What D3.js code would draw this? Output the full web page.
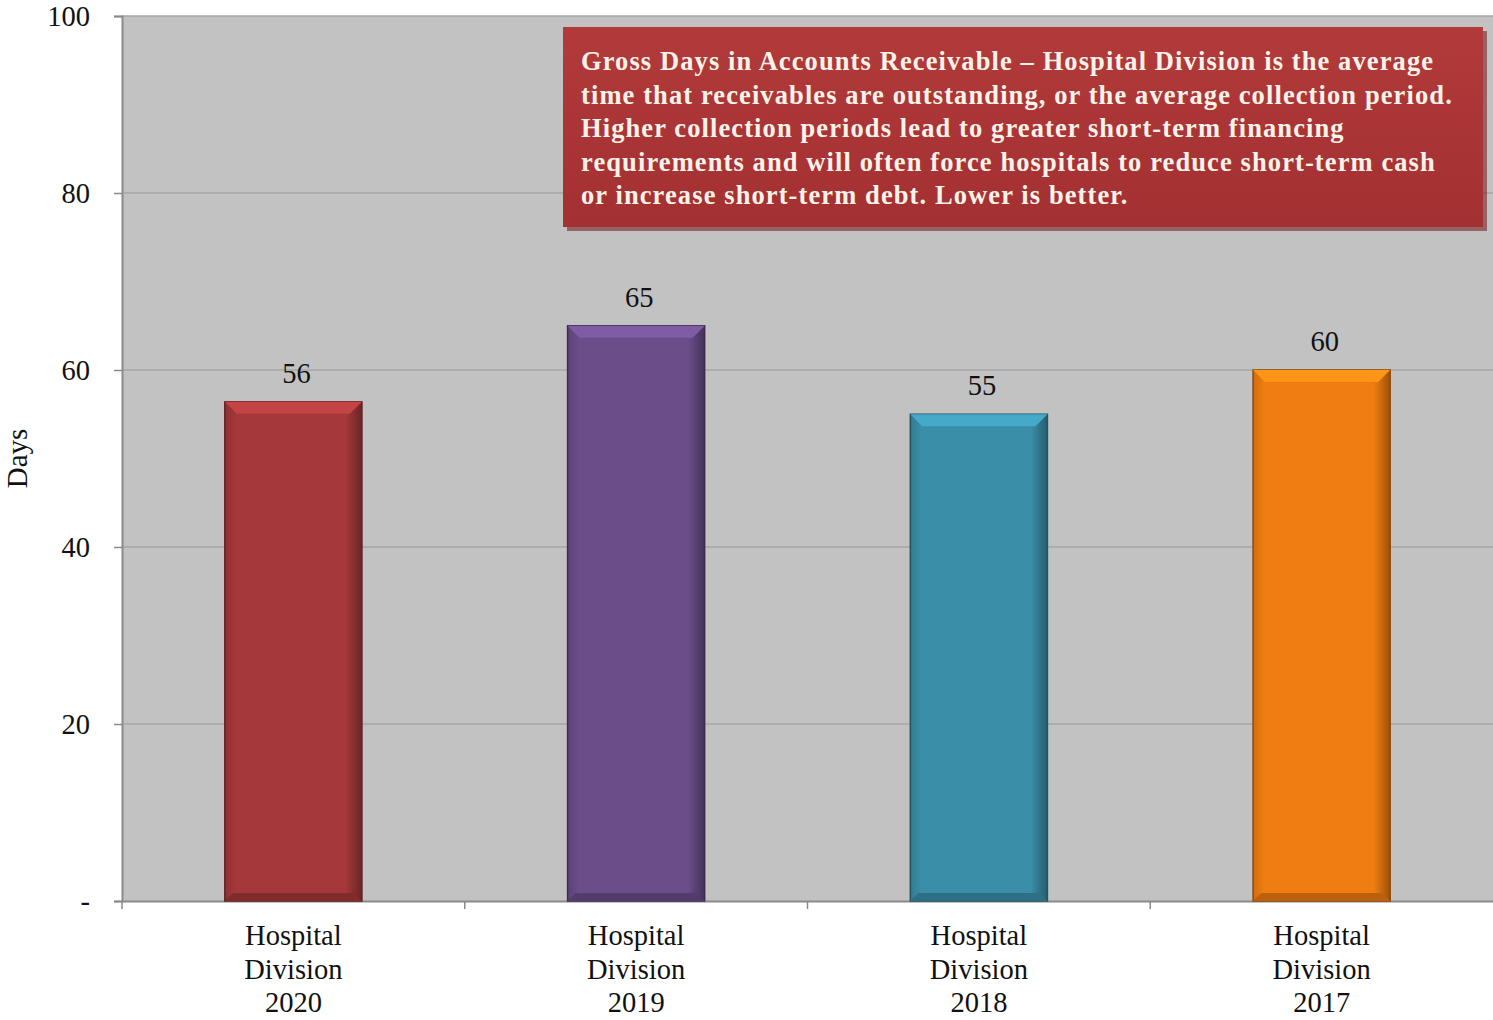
<!DOCTYPE html>
<head>
  <meta charset="utf-8">
  <script src="https://cdn.jsdelivr.net/npm/d3@7"></script>
  <style>
    body { margin: 0; background: white; }
    text { font-family: "Liberation Serif", "Times New Roman", serif; }
  </style>
</head>
<body>
  <div id="chart"></div>
  <script>

  // data
  var categories = ["Hospital Division 2020", "Hospital Division 2019", "Hospital Division 2018", "Hospital Division 2017"];
  var days = [56.4, 65.0, 55.0, 60.0];
  var dayLabels = ["56", "65", "55", "60"];
  var barColors = ["#a4383a", "#6a4d89", "#3a8ea8", "#f07d12"];
  var yTicks = [0, 20, 40, 60, 80, 100];
  var yTickLabels = ["-", "20", "40", "60", "80", "100"];
  var noteLines = [
    "Gross Days in Accounts Receivable \u2013 Hospital Division is the average",
    "time that receivables are outstanding, or the average collection period.",
    "Higher collection periods lead to greater short-term financing",
    "requirements and will often force hospitals to reduce short-term cash",
    "or increase short-term debt. Lower is better."
  ];

  var width = 1493, height = 1020;
  var margin = {top: 16, right: 0, bottom: 119, left: 122};

  var svg = d3.select("#chart").append("svg")
    .attr("width", width)
    .attr("height", height);

  var x = d3.scaleBand()
    .domain(categories)
    .range([margin.left, width - margin.right])
    .paddingInner(0.6)
    .paddingOuter(0.3);

  var y = d3.scaleLinear()
    .domain([0, 100])
    .range([height - margin.bottom, margin.top]);

  var defs = svg.append("defs");
  barColors.forEach(function(c, i) {
    var g = defs.append("linearGradient")
      .attr("id", "bar" + i)
      .attr("x1", 0).attr("x2", 1).attr("y1", 0).attr("y2", 0);
    g.append("stop").attr("offset", "0%").attr("stop-color", d3.color(c).darker(0.4));
    g.append("stop").attr("offset", "8%").attr("stop-color", c);
    g.append("stop").attr("offset", "88%").attr("stop-color", c);
    g.append("stop").attr("offset", "100%").attr("stop-color", d3.color(c).darker(1.2));
  });
  var ng = defs.append("linearGradient")
    .attr("id", "noteFill")
    .attr("x1", 0).attr("x2", 0).attr("y1", 0).attr("y2", 1);
  ng.append("stop").attr("offset", "0%").attr("stop-color", "#b23a3a");
  ng.append("stop").attr("offset", "100%").attr("stop-color", "#a33032");

  // plot background
  svg.append("rect")
    .attr("x", margin.left)
    .attr("y", margin.top)
    .attr("width", width - margin.right - margin.left)
    .attr("height", y(0) - margin.top)
    .style("fill", "#c2c2c2");

  // gridlines
  svg.append("g").selectAll("line")
    .data(yTicks.filter(function(d) { return d > 0; }))
    .enter().append("line")
    .attr("x1", margin.left)
    .attr("x2", width - margin.right)
    .attr("y1", function(d) { return y(d); })
    .attr("y2", function(d) { return y(d); })
    .style("stroke", "#a6a6a6")
    .style("stroke-width", 1.5);

  // y axis
  var yAxis = svg.append("g")
    .attr("transform", "translate(" + margin.left + ",0)")
    .call(d3.axisLeft(y).tickValues(yTicks).tickSize(8).tickPadding(24)
      .tickFormat(function(d, i) { return yTickLabels[i]; }));
  yAxis.select(".domain").style("stroke", "#8a8a8a").style("stroke-width", 2);
  yAxis.selectAll(".tick line").style("stroke", "#8a8a8a").style("stroke-width", 1.5);
  yAxis.selectAll("text")
    .style("font-family", "Liberation Serif")
    .style("font-size", "28.5px")
    .style("fill", "#111");

  // x axis
  var xAxis = svg.append("g")
    .attr("transform", "translate(0," + y(0) + ")")
    .call(d3.axisBottom(x).tickSize(0).tickFormat(""));
  xAxis.select(".domain").style("stroke", "#8a8a8a").style("stroke-width", 2);

  var step = x.step();
  svg.append("g").selectAll("line")
    .data(categories)
    .enter().append("line")
    .attr("x1", function(d) { return x(d) + x.bandwidth() / 2 - step / 2; })
    .attr("x2", function(d) { return x(d) + x.bandwidth() / 2 - step / 2; })
    .attr("y1", y(0))
    .attr("y2", y(0) + 8)
    .style("stroke", "#8a8a8a")
    .style("stroke-width", 1.5);

  var catLabels = svg.append("g").selectAll("text")
    .data(categories)
    .enter().append("text")
    .attr("text-anchor", "middle")
    .style("font-size", "28.5px")
    .style("fill", "#111");
  catLabels.each(function(d) {
    var words = ["Hospital", "Division", d.split(" ")[2]];
    var t = d3.select(this);
    words.forEach(function(w, j) {
      t.append("tspan")
        .attr("x", x(d) + x.bandwidth() / 2)
        .attr("y", y(0) + 44 + j * 33.5)
        .text(w);
    });
  });

  // y title
  svg.append("text")
    .attr("transform", "translate(27," + y(50) + ") rotate(-90)")
    .attr("text-anchor", "middle")
    .style("font-size", "29px")
    .style("fill", "#111")
    .text("Days");

  // bars
  var bars = svg.append("g").selectAll("g")
    .data(days)
    .enter().append("g");

  bars.append("rect")
    .attr("x", function(d, i) { return x(categories[i]); })
    .attr("y", function(d) { return y(d); })
    .attr("width", x.bandwidth())
    .attr("height", function(d) { return y(0) - y(d); })
    .style("fill", function(d, i) { return "url(#bar" + i + ")"; })
    .style("stroke", function(d, i) { return d3.color(barColors[i]).darker(1.5); })
    .style("stroke-width", 1.5);

  // bevel highlight at the top
  bars.append("path")
    .attr("d", function(d, i) {
      var x0 = x(categories[i]), x1 = x0 + x.bandwidth(), t = y(d), b = 12;
      return "M" + x0 + "," + t + "L" + x1 + "," + t + "L" + (x1 - b) + "," + (t + b) +
        "L" + (x0 + b) + "," + (t + b) + "Z";
    })
    .style("fill", function(d, i) { return d3.color(barColors[i]).brighter(0.5); });

  // bottom shading
  bars.append("path")
    .attr("d", function(d, i) {
      var x0 = x(categories[i]), x1 = x0 + x.bandwidth(), bt = y(0), b = 8;
      return "M" + x0 + "," + bt + "L" + x1 + "," + bt + "L" + (x1 - b) + "," + (bt - b) +
        "L" + (x0 + b) + "," + (bt - b) + "Z";
    })
    .style("fill", function(d, i) { return d3.color(barColors[i]).darker(0.7); });

  bars.append("text")
    .attr("x", function(d, i) { return x(categories[i]) + x.bandwidth() / 2 + 3; })
    .attr("y", function(d) { return y(d) - 19; })
    .attr("text-anchor", "middle")
    .style("font-size", "28.5px")
    .style("fill", "#111")
    .text(function(d, i) { return dayLabels[i]; });

  // note box
  svg.append("rect")
    .attr("x", 567).attr("y", 31)
    .attr("width", 920).attr("height", 200)
    .style("fill", "#7a2224")
    .style("opacity", 0.6);
  svg.append("rect")
    .attr("x", 563).attr("y", 27)
    .attr("width", 920).attr("height", 200)
    .style("fill", "url(#noteFill)");

  svg.append("g").selectAll("text")
    .data(noteLines)
    .enter().append("text")
    .attr("x", 581)
    .attr("y", function(d, i) { return 70 + i * 33.5; })
    .style("font-size", "26.5px")
    .style("font-weight", "bold")
    .style("letter-spacing", "1.1px")
    .style("fill", "#fbf3ea")
    .text(function(d) { return d; });

  </script>
</body>
